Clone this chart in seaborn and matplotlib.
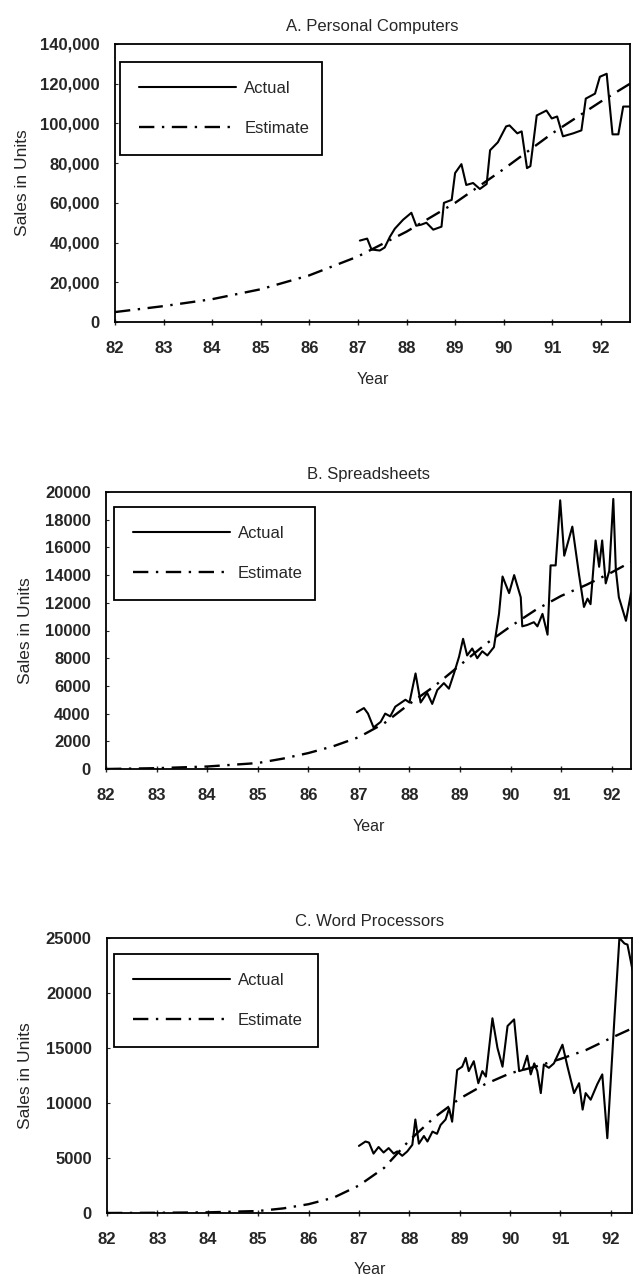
import numpy as np
import pandas as pd
import seaborn as sns
import matplotlib.pyplot as plt
from matplotlib.ticker import FuncFormatter

# ---- data (year as 82..92, sales in units) ----
pc_years = [87.04, 87.19, 87.28, 87.45, 87.55, 87.66, 87.76, 87.93, 88.10, 88.20,
            88.30, 88.41, 88.55, 88.72, 88.77, 88.93, 89.00, 89.13, 89.23, 89.37,
            89.51, 89.65, 89.72, 89.88, 90.05, 90.12, 90.28, 90.37, 90.48, 90.55,
            90.68, 90.88, 90.99, 91.10, 91.22, 91.43, 91.60, 91.69, 91.88, 91.98,
            92.12, 92.24, 92.36, 92.46, 92.60]
pc_actual = [41000, 42000, 36500, 36000, 37500, 43000, 47000, 51500, 55000, 48500,
             49000, 50000, 46500, 48000, 60000, 61500, 75000, 79500, 69000, 70000,
             67000, 69500, 86500, 90500, 98500, 99000, 95000, 96000, 77500, 78500,
             104000, 106500, 102500, 103500, 93500, 95000, 96500, 112500, 115000, 123500,
             125000, 94500, 94500, 108500, 108500]
pc_est_years = [82, 83, 84, 85, 86, 87, 88, 89, 90, 91, 92, 92.6]
pc_estimate = [5000, 8000, 11500, 16500, 23500, 33000, 45500, 60000, 77000, 95000, 111000, 120000]

ss_years = [86.96, 87.10, 87.18, 87.29, 87.43, 87.52, 87.62, 87.72, 87.92, 88.00,
            88.12, 88.22, 88.35, 88.45, 88.55, 88.68, 88.78, 88.88, 88.98, 89.06,
            89.14, 89.24, 89.34, 89.44, 89.54, 89.67, 89.77, 89.84, 89.97, 90.07,
            90.20, 90.23, 90.33, 90.46, 90.53, 90.63, 90.73, 90.79, 90.89, 90.98,
            91.06, 91.22, 91.35, 91.45, 91.52, 91.58, 91.68, 91.75, 91.81, 91.88,
            91.95, 92.03, 92.08, 92.14, 92.28, 92.38]
ss_actual = [4100, 4400, 4000, 3000, 3400, 4000, 3800, 4500, 5000, 4800,
             6900, 4800, 5500, 4700, 5700, 6200, 5800, 6900, 8100, 9400,
             8200, 8700, 8000, 8500, 8200, 8800, 11200, 13900, 12700, 14000,
             12400, 10300, 10400, 10600, 10300, 11200, 9700, 14700, 14700, 19400,
             15400, 17500, 14100, 11700, 12300, 11900, 16500, 14600, 16500, 13400,
             14300, 19500, 14400, 12400, 10700, 12700]
ss_est_years = [82, 83, 84, 85, 85.5, 86, 86.5, 87, 87.5, 88, 88.5, 89, 89.5, 90,
                90.5, 91, 91.5, 92, 92.38]
ss_estimate = [0, 60, 180, 430, 750, 1150, 1650, 2300, 3300, 4700, 6000, 7500, 9000,
               10300, 11500, 12500, 13300, 14200, 14950]

wp_years = [87.00, 87.13, 87.20, 87.29, 87.39, 87.49, 87.59, 87.69, 87.76, 87.86,
            87.96, 88.06, 88.12, 88.19, 88.29, 88.36, 88.46, 88.55, 88.62, 88.72,
            88.79, 88.85, 88.95, 89.05, 89.12, 89.18, 89.28, 89.37, 89.45, 89.52,
            89.65, 89.75, 89.85, 89.95, 90.08, 90.18, 90.25, 90.34, 90.41, 90.48,
            90.54, 90.61, 90.67, 90.77, 90.87, 91.04, 91.14, 91.27, 91.37, 91.44,
            91.50, 91.60, 91.73, 91.83, 91.93, 92.07, 92.17, 92.27, 92.33, 92.43]
wp_actual = [6100, 6500, 6400, 5400, 6000, 5500, 5900, 5400, 5600, 5200,
             5600, 6200, 8500, 6300, 7000, 6500, 7400, 7200, 8000, 8500,
             9500, 8300, 13000, 13300, 14100, 12900, 13800, 11800, 12900, 12400,
             17700, 15000, 13300, 17000, 17600, 12900, 13000, 14300, 12600, 13600,
             12900, 10900, 13500, 13200, 13600, 15300, 13300, 10900, 11800, 9400,
             10900, 10300, 11700, 12600, 6800, 17600, 25000, 24500, 24400, 22100]
wp_est_years = [82, 83, 84, 85, 85.5, 86, 86.5, 87, 87.5, 88, 88.5, 89, 89.5, 90,
                90.5, 91, 91.5, 92, 92.43]
wp_estimate = [0, 20, 60, 180, 420, 800, 1400, 2500, 4100, 6600, 8700, 10400, 11700,
               12700, 13300, 14000, 14800, 15900, 16800]

year_ticks = list(range(82, 93))

sns.set_style("ticks")
plt.rcParams['font.family'] = ['Liberation Sans', 'DejaVu Sans']

W, H = 633, 1278
fig = plt.figure(figsize=(W / 100, H / 100), dpi=100)


def px_axes(left, right, top, bottom):
    # convert pixel box of the axes to figure fractions
    return [left / W, 1 - bottom / H, (right - left) / W, (bottom - top) / H]


def draw_panel(rect, yrs, actual, est_yrs, estimate, title, ymax, ystep, xmax,
               comma, leg_anchor, ylab_x):
    ax = fig.add_axes(rect)
    sns.lineplot(x=yrs, y=actual, ax=ax, color='black', lw=1.5, label='Actual')
    sns.lineplot(x=est_yrs, y=estimate, ax=ax, color='black', lw=1.7,
                 linestyle=(0, (6.5, 3.2, 1.0, 3.2)), label='Estimate')
    ax.set_xlim(82, xmax)
    ax.set_ylim(0, ymax)
    ax.set_xticks(year_ticks)
    ax.set_yticks(np.arange(0, ymax + 1, ystep))
    if comma:
        ax.yaxis.set_major_formatter(FuncFormatter(lambda v, p: f'{int(v):,}'))
    else:
        ax.yaxis.set_major_formatter(FuncFormatter(lambda v, p: f'{int(v)}'))
    for s in ax.spines.values():
        s.set_visible(True)
        s.set_linewidth(1.3)
        s.set_color('black')
    ax.tick_params(axis='x', direction='inout', length=5, width=1, pad=11, labelsize=12)
    ax.tick_params(axis='y', direction='in', length=2, width=0.8, pad=11, labelsize=12)
    plt.setp(ax.get_xticklabels() + ax.get_yticklabels(), fontweight='bold')
    ax.set_title(title, fontsize=12, pad=9)
    ax.set_ylabel('Sales in Units', fontsize=12.5)
    ax.yaxis.set_label_coords(ylab_x, 0.5)
    ax.set_xlabel('Year', fontsize=11.5, va='top')
    ax.xaxis.set_label_coords(0.5, -0.18)
    leg = ax.legend(loc='upper left', bbox_to_anchor=leg_anchor, mode='expand',
                    borderaxespad=0, fontsize=12, frameon=True, fancybox=False,
                    handlelength=5.8, handletextpad=0.5, borderpad=1.15,
                    labelspacing=1.5, edgecolor='black')
    leg.get_frame().set_linewidth(1.3)
    leg.get_frame().set_alpha(1)
    return ax


draw_panel(px_axes(115, 630, 44, 322), pc_years, pc_actual, pc_est_years, pc_estimate,
           'A. Personal Computers', 140000, 20000, 92.6, True,
           (0.01, 0.935, 0.392, 0.0), -0.165)
draw_panel(px_axes(106, 631, 492, 769), ss_years, ss_actual, ss_est_years, ss_estimate,
           'B. Spreadsheets', 20000, 2000, 92.38, False,
           (0.015, 0.946, 0.383, 0.0), -0.139)
draw_panel(px_axes(107, 632, 938, 1213), wp_years, wp_actual, wp_est_years, wp_estimate,
           'C. Word Processors', 25000, 5000, 92.42, False,
           (0.013, 0.942, 0.389, 0.0), -0.141)

fig.savefig('out.png', dpi=100, facecolor='white')
